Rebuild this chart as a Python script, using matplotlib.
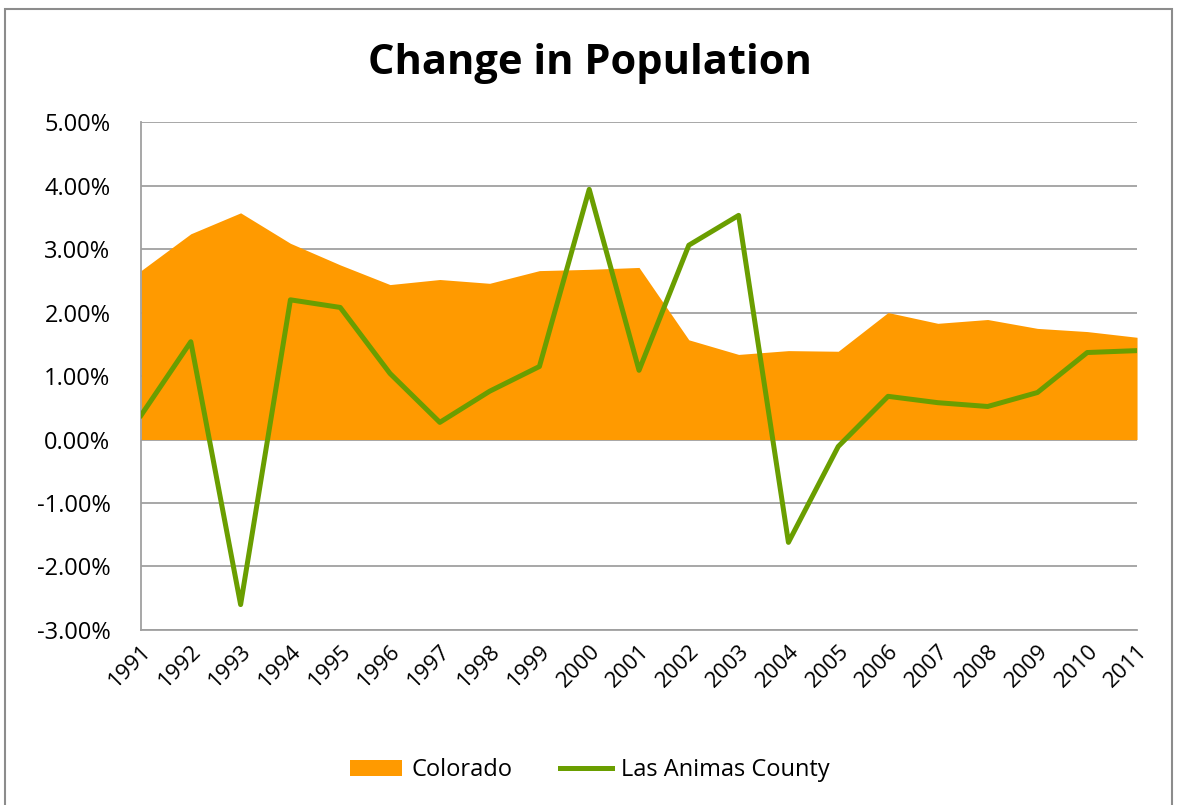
import matplotlib
matplotlib.use("Agg")
import matplotlib.pyplot as plt
from matplotlib.patches import Rectangle
from matplotlib.ticker import FuncFormatter

years = [str(y) for y in range(1991, 2012)]

# percent change per year
colorado = [2.66, 3.24, 3.57, 3.09, 2.75, 2.44, 2.52, 2.46, 2.66, 2.68, 2.71,
            1.57, 1.34, 1.40, 1.39, 2.00, 1.83, 1.89, 1.75, 1.70, 1.61]
las_animas = [0.38, 1.54, -2.60, 2.20, 2.08, 1.04, 0.27, 0.76, 1.15, 3.94, 1.09,
              3.06, 3.53, -1.62, -0.11, 0.68, 0.58, 0.52, 0.74, 1.37, 1.40]

plt.rcParams['font.family'] = ['Open Sans', 'DejaVu Sans']

fig = plt.figure(figsize=(11.8, 8.05), dpi=100)
ax = fig.add_axes([0.1195, 0.2174, 0.8441, 0.631])

x = list(range(len(years)))
ax.fill_between(x, 0, colorado, color='#FF9A00', linewidth=0, label='Colorado', zorder=2)
ax.plot(x, las_animas, color='#6A9E00', linewidth=3.6, label='Las Animas County', zorder=3)

ax.set_xlim(0, len(years) - 1)
ax.set_ylim(-3, 5)
ax.set_yticks(range(-3, 6))
ax.yaxis.set_major_formatter(FuncFormatter(lambda v, p: f"{v:.2f}%"))
ax.grid(axis='y', color='#A0A0A0', linewidth=1.3, zorder=1)
ax.set_axisbelow(True)
for s in ['top', 'right']:
    ax.spines[s].set_visible(False)
ax.spines['left'].set_color('#A0A0A0')
ax.spines['bottom'].set_color('#A0A0A0')
ax.spines['left'].set_linewidth(1.3)
ax.spines['bottom'].set_linewidth(1.3)
ax.tick_params(axis='y', length=0, labelsize=17, pad=22)
ax.set_xticks(x)
ax.set_xticklabels(years, rotation=45, ha='right', rotation_mode='anchor', fontsize=16)
ax.tick_params(axis='x', length=0, pad=8)

fig.suptitle('Change in Population', fontsize=30, fontweight='bold', y=0.947)

fig.legend(loc='center', bbox_to_anchor=(0.5, 0.043), ncol=2, frameon=False,
           fontsize=17, handlelength=2.2, handletextpad=0.4, columnspacing=2.0)

fig.patches.append(Rectangle((5 / 1180, -0.1), 1167 / 1180, 1.1 - 9 / 805,
                             transform=fig.transFigure, fill=False,
                             edgecolor='#8C8C8C', linewidth=1.5))

fig.savefig('out.png', dpi=100)
